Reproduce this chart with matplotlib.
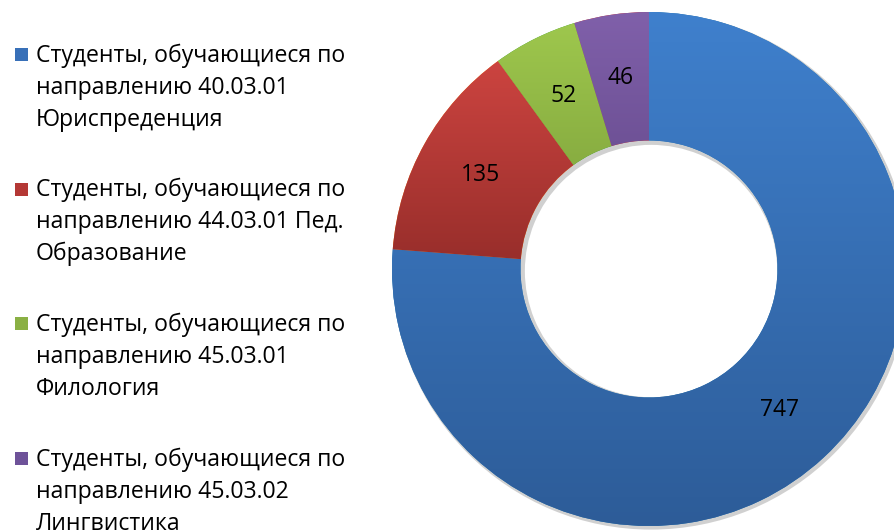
import numpy as np
import matplotlib.pyplot as plt
from matplotlib.colors import LinearSegmentedColormap
from matplotlib.patches import Rectangle

labels = ['Студенты, обучающиеся по\nнаправлению 40.03.01\nЮриспреденция',
          'Студенты, обучающиеся по\nнаправлению 44.03.01 Пед.\nОбразование',
          'Студенты, обучающиеся по\nнаправлению 45.03.01\nФилология',
          'Студенты, обучающиеся по\nнаправлению 45.03.02\nЛингвистика']
values = [747, 135, 52, 46]
top_colors = ['#3F80CD', '#CC4440', '#9EC74D', '#8060AA']
bottom_colors = ['#2D5C98', '#962D2A', '#789A38', '#5E4484']
box_colors = ['#3870B8', '#B43835', '#8AB044', '#6E5299']

plt.rcParams['font.family'] = ['Open Sans', 'DejaVu Sans']

W, H = 894, 530
fig = plt.figure(figsize=(W / 100, H / 100), dpi=100)

# donut, positioned in pixels like the original
cx, cy, R = 649, 269, 257
ax = fig.add_axes([(cx - R) / W, (H - cy - R) / H, 2 * R / W, 2 * R / H])

total = sum(values)
wedges, texts, autotexts = ax.pie(values, startangle=90, counterclock=False,
                                  radius=1, pctdistance=0.75,
                                  autopct=lambda p: '%d' % round(p * total / 100),
                                  wedgeprops=dict(width=0.5, linewidth=0))

# soft shadow ring
shadow = ax.pie([1], radius=1.006, center=(0.008, -0.008), colors=['#d0d0d0'],
                wedgeprops=dict(width=0.515, linewidth=0))[0][0]
shadow.set_zorder(0)

# vertical gradient per wedge
for w, c0, c1 in zip(wedges, top_colors, bottom_colors):
    vy = w.get_path().vertices[:, 1]
    cmap = LinearSegmentedColormap.from_list('g', [c1, c0])
    grad = np.linspace(0, 1, 256).reshape(-1, 1)
    im = ax.imshow(grad, cmap=cmap, origin='lower', aspect='auto',
                   extent=[-1, 1, vy.min(), vy.max()], zorder=2)
    im.set_clip_path(w)

for t in autotexts:
    t.set_fontsize(16.5)
    t.set_color('black')
    t.set_zorder(5)

ax.set_xlim(-1, 1)
ax.set_ylim(-1, 1)
ax.set_aspect('equal')
ax.axis('off')

# legend drawn by hand
x_box, x_txt = 15, 36
y0, gap, lh = 62, 134.5, 32
for i, lab in enumerate(labels):
    base = y0 + i * gap
    fig.patches.append(Rectangle((x_box / W, 1 - (base - 1) / H), 13 / W, 13 / H,
                                 transform=fig.transFigure,
                                 facecolor=box_colors[i], edgecolor='none'))
    for j, line in enumerate(lab.split('\n')):
        fig.text(x_txt / W, 1 - (base + j * lh) / H, line, fontsize=16.6,
                 va='baseline', ha='left', color='black')

fig.savefig('out.png', dpi=100)
